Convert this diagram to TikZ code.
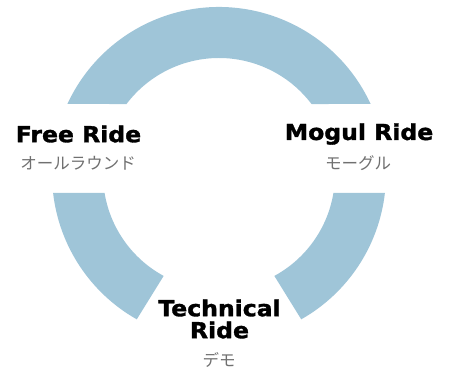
\documentclass[tikz,border=0pt]{standalone}
\usepackage{fontspec}
\usetikzlibrary{calc}
\newfontfamily\ridefont[FakeStretch=1.07,FakeBold=1.5]{DejaVu Sans}
\newfontfamily\jpfont{Noto Sans CJK JP}
\definecolor{ringblue}{HTML}{9FC5D8}
\definecolor{subgray}{HTML}{707070}

\begin{document}
\begin{tikzpicture}[x=1pt, y=1pt,
    ride/.style={font=\ridefont\bfseries\fontsize{22}{23}\selectfont, inner sep=0pt, align=center},
    sub/.style={font=\jpfont\fontsize{16.5}{18}\selectfont, text=subgray, inner sep=0pt}]
  \useasboundingbox (0,0) rectangle (450,371);
  \coordinate (O) at (219,197);

  % ring segments
  \fill[ringblue] ($(O)+(24.8:167)$) arc (24.8:155.2:167)
      -- ($(O)+(142.9:116)$) arc (142.9:37.1:116) -- cycle;
  \fill[ringblue] ($(O)+(186.5:167)$) arc (186.5:240.5:167)
      -- ($(O)+(241.5:116)$) arc (241.5:189.4:116) -- cycle;
  \fill[ringblue] ($(O)+(-6.5:167)$) arc (-6.5:-60.5:167)
      -- ($(O)+(-61.5:116)$) arc (-61.5:-9.4:116) -- cycle;

  % labels
  \node[ride] (free)  at (78.5,237) {Free Ride};
  \node[sub]  (freeJ) at (78,208)  {オールラウンド};
  \node[ride] (mogul)  at (359,237) {Mogul Ride};
  \node[sub]  (mogulJ) at (358,208) {モーグル};
  \node[ride] (tech)  at (219.5,52) {Technical\\[-1pt]Ride};
  \node[sub]  (techJ) at (219,11)   {デモ};
\end{tikzpicture}
\end{document}
